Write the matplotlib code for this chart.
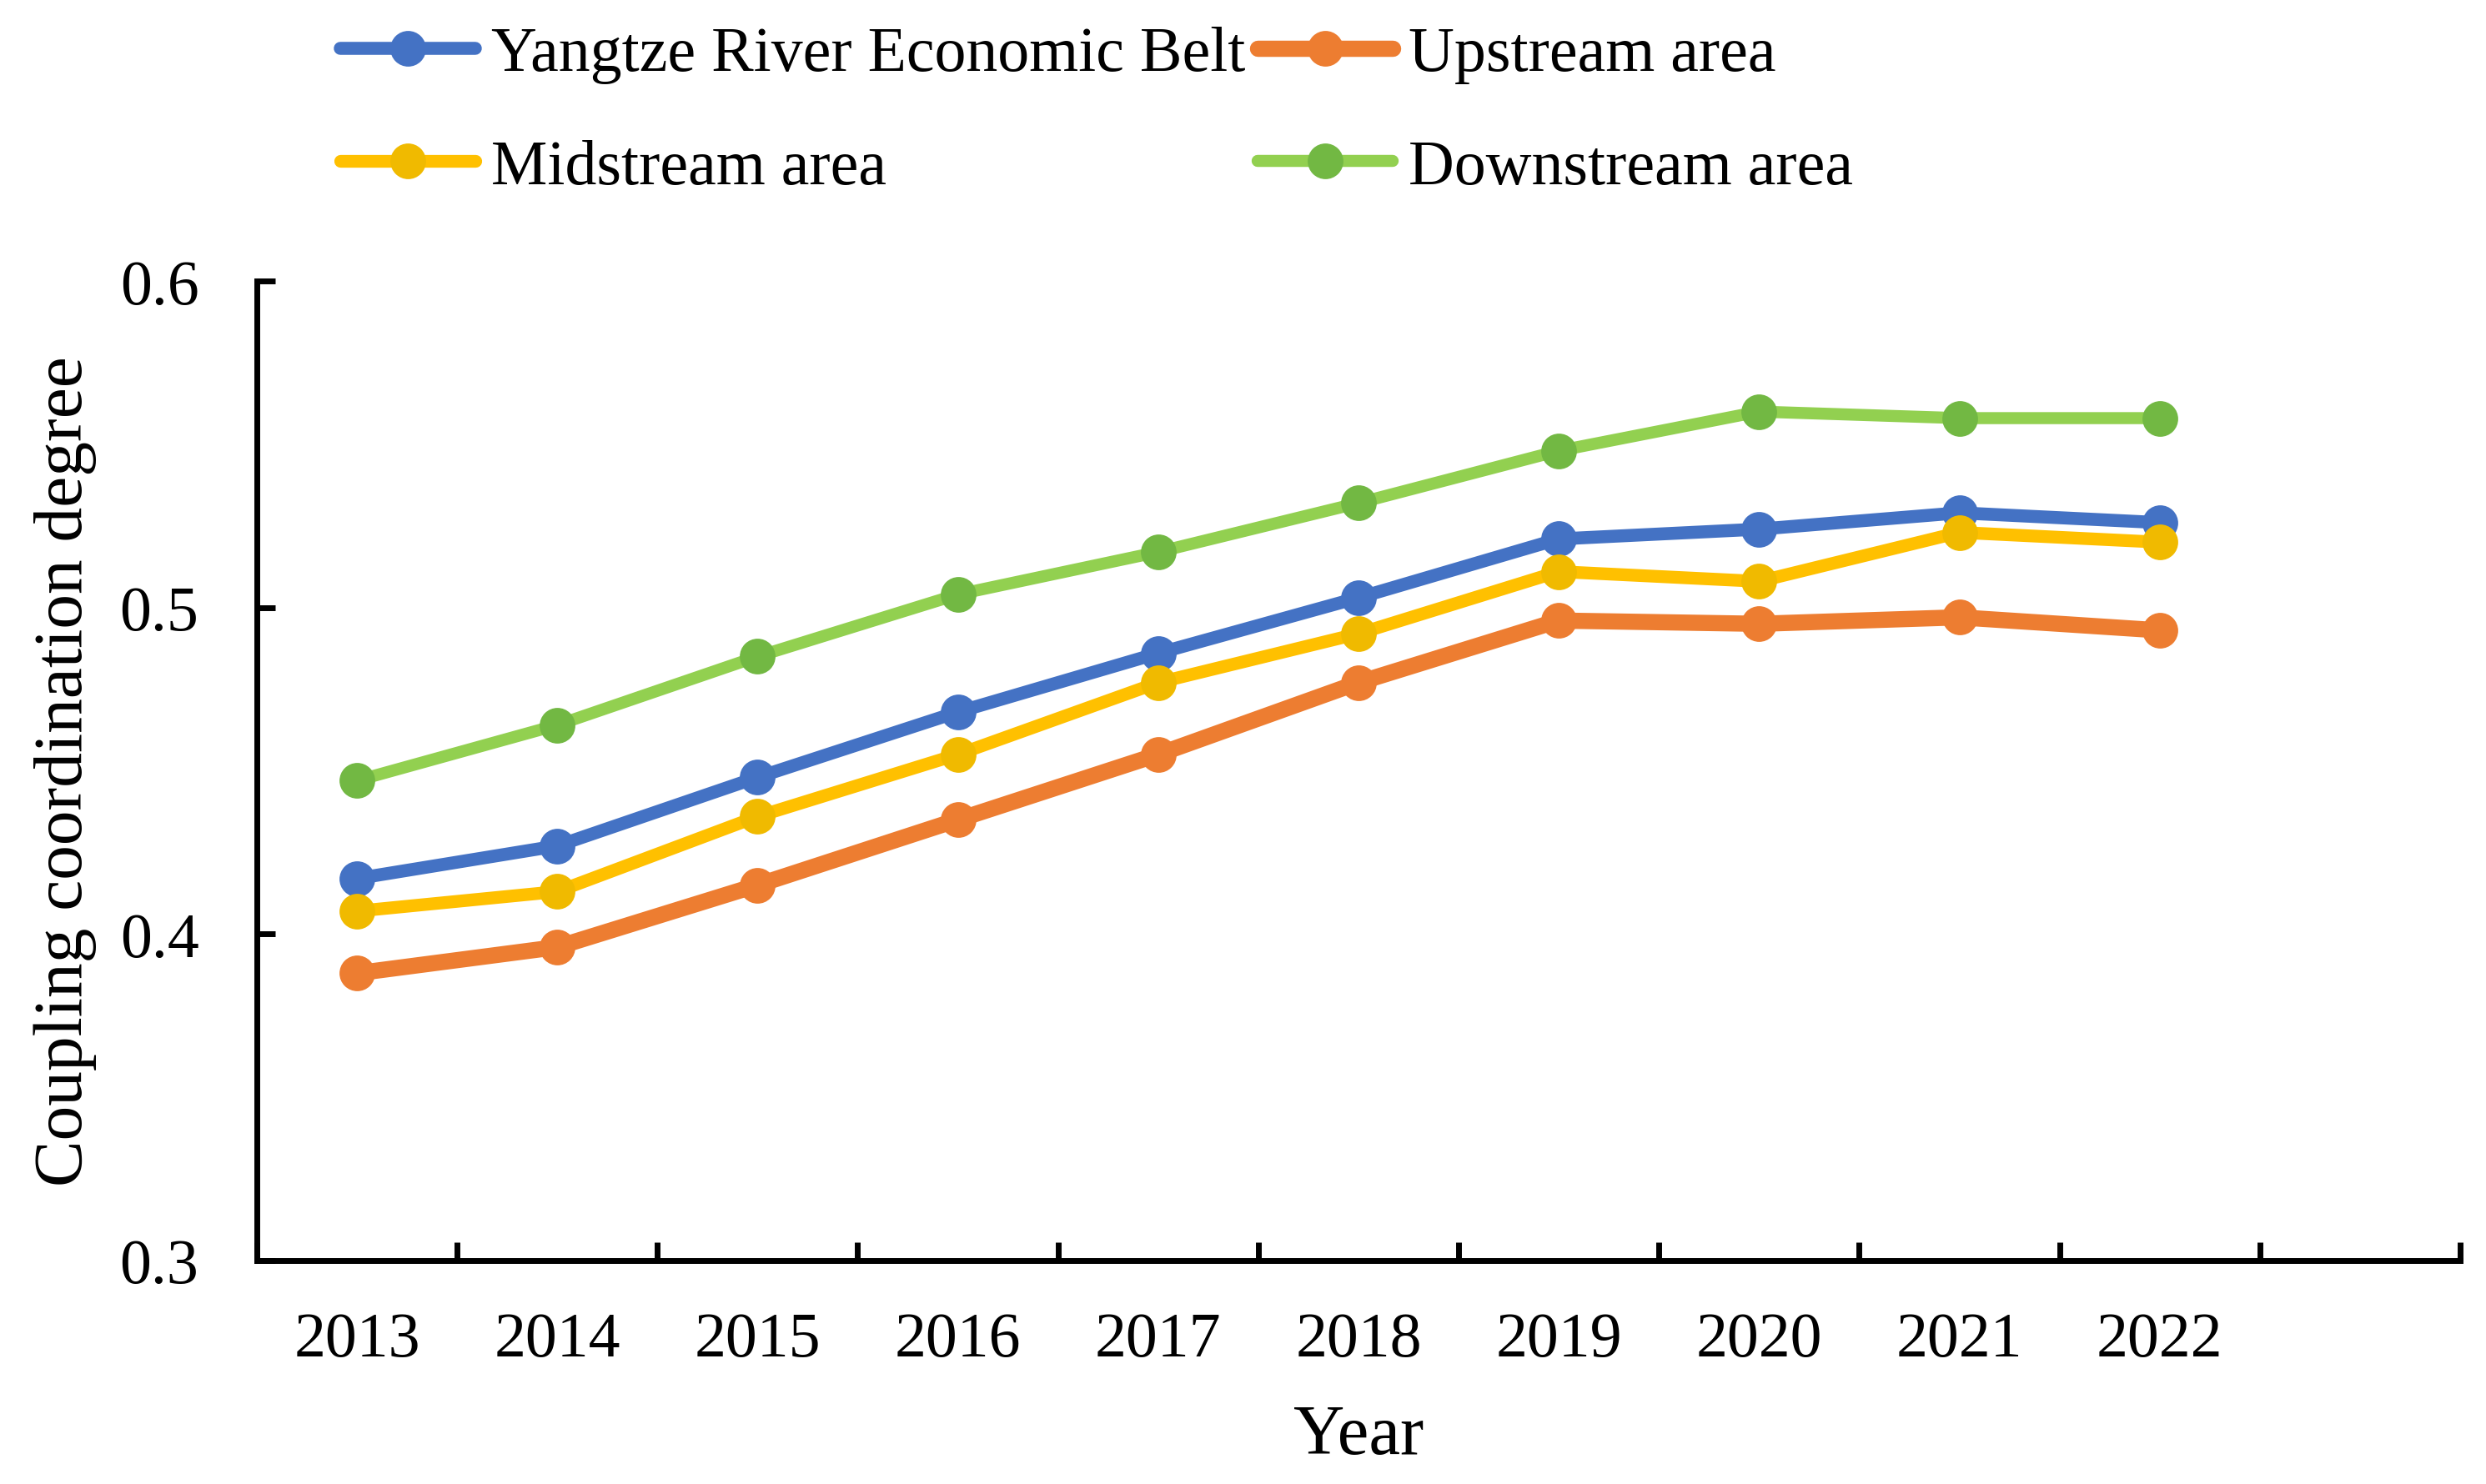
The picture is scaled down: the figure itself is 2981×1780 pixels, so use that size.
import matplotlib
matplotlib.use("Agg")
import matplotlib.pyplot as plt
import numpy as np

# Coupling coordination degree
years = ["2013", "2014", "2015", "2016", "2017", "2018", "2019", "2020", "2021", "2022"]
belt = [0.417, 0.427, 0.448, 0.468, 0.486, 0.503, 0.521, 0.524, 0.529, 0.526]
upstream = [0.388, 0.396, 0.415, 0.435, 0.455, 0.477, 0.496, 0.495, 0.497, 0.493]
midstream = [0.407, 0.413, 0.436, 0.455, 0.477, 0.492, 0.511, 0.508, 0.523, 0.520]
downstream = [0.447, 0.464, 0.485, 0.504, 0.517, 0.532, 0.548, 0.560, 0.558, 0.558]
y_ticks = [0.3, 0.4, 0.5, 0.6]

plt.rcParams["font.family"] = ["Liberation Serif", "DejaVu Serif"]
plt.rcParams["font.size"] = 27.3

fig = plt.figure(figsize=(14.905, 8.905), dpi=200)
ax = fig.add_axes([0.1033, 0.1505, 0.8863, 0.6597])

x = np.arange(len(years))
series = [
    ("Yangtze River Economic Belt", belt, "#4472C4", "#4472C4", 5.6),
    ("Upstream area", upstream, "#ED7D31", "#ED7D31", 7.0),
    ("Midstream area", midstream, "#FFC000", "#F0BA00", 5.5),
    ("Downstream area", downstream, "#92D050", "#72B843", 5.2),
]
lines = {}
for name, vals, lc, mc, lw in series:
    ln, = ax.plot(x, vals, color=lc, lw=lw, marker="o", markersize=14.4,
                  markerfacecolor=mc, markeredgecolor=mc,
                  solid_capstyle="round", solid_joinstyle="round", label=name)
    lines[name] = ln

ax.set_xlim(-0.5, 10.5)
ax.set_ylim(0.3, 0.6)

# category boundaries as ticks, year labels in the middle of each slot
ax.set_xticks(np.arange(-0.5, 11, 1.0))
ax.set_xticklabels([])
ax.set_xticks(x, minor=True)
ax.set_xticklabels(years, minor=True)
ax.tick_params(axis="x", which="major", direction="in", length=8, width=2.5)
ax.tick_params(axis="x", which="minor", length=0, pad=22)

ax.set_yticks(y_ticks)
ax.set_yticklabels(["0.3", "0.4", "0.5", "0.6"])
ax.tick_params(axis="y", direction="in", length=8, width=2.5, pad=25)

for side in ["top", "right"]:
    ax.spines[side].set_visible(False)
for side in ["left", "bottom"]:
    ax.spines[side].set_linewidth(2.5)

ax.set_xlabel("Year", fontsize=30.5, labelpad=15)
ax.set_ylabel("Coupling coordination degree", fontsize=30, labelpad=10)

order = ["Yangtze River Economic Belt", "Midstream area", "Upstream area", "Downstream area"]
fig.legend([lines[n] for n in order], order, ncol=2, frameon=False,
           loc="upper left", bbox_to_anchor=(0.137, 0.982),
           handlelength=2.13, handletextpad=0.25, columnspacing=0.2,
           labelspacing=0.88, borderpad=0.0, borderaxespad=0.0)

fig.savefig("out.png", dpi=200)
